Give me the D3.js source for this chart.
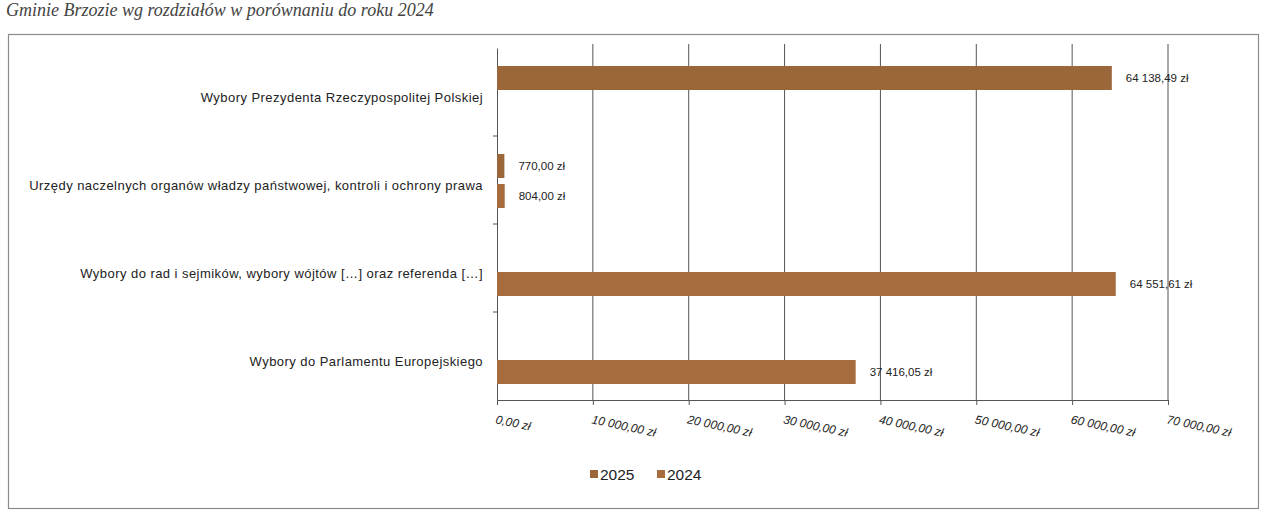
<!DOCTYPE html>
<html>
<head>
<meta charset="utf-8">
<script src="https://cdn.jsdelivr.net/npm/d3@7"></script>
<style>
  body { margin: 0; background: #fff; }
  svg { display: block; font-family: "Liberation Sans", Arial, sans-serif; }
</style>
</head>
<body>
<svg id="chart" width="1265" height="513"></svg>
<script>
// data
const categories = [
  "Wybory Prezydenta Rzeczypospolitej Polskiej",
  "Urzędy naczelnych organów władzy państwowej, kontroli i ochrony prawa",
  "Wybory do rad i sejmików, wybory wójtów […] oraz referenda […]",
  "Wybory do Parlamentu Europejskiego"
];
const seriesNames = ["2025", "2024"];
const values2025 = [64138.49, 770.00, null, null];
const values2024 = [null, 804.00, 64551.61, 37416.05];
const xTicks = [0, 10000, 20000, 30000, 40000, 50000, 60000, 70000];
const colors = { "2025": "#9c663b", "2024": "#a66c3e" };

const fmt = v => {
  const parts = v.toFixed(2).split(".");
  return parts[0].replace(/\B(?=(\d{3})+(?!\d))/g, " ") + "," + parts[1] + " zł";
};

const svg = d3.select("#chart");

// heading line of the scanned page
svg.append("text")
  .attr("x", 6).attr("y", 16)
  .style("font-family", "'Liberation Serif', serif")
  .style("font-style", "italic")
  .style("font-size", "18px")
  .attr("fill", "#444")
  .text("Gminie Brzozie wg rozdziałów w porównaniu do roku 2024");

// chart frame
svg.append("rect")
  .attr("x", 8.5).attr("y", 34.5)
  .attr("width", 1250).attr("height", 474)
  .attr("fill", "none").attr("stroke", "#8a8a8a").attr("stroke-width", 1.2);

const x = d3.scaleLinear().domain([0, 70000]).range([497, 1168]);
const y = d3.scaleBand().domain(categories).range([48, 400]);
const y1 = d3.scaleBand().domain(seriesNames).range([18, 72]).paddingInner(0.2);

const g = svg.append("g");

// grid lines
g.selectAll("line.grid")
  .data(xTicks.slice(1))
  .join("line")
  .attr("class", "grid")
  .attr("x1", d => x(d)).attr("x2", d => x(d))
  .attr("y1", 44).attr("y2", 400)
  .attr("stroke", "#555").attr("stroke-width", 1);

// x axis
const xAxis = g.append("g")
  .attr("transform", "translate(0,400)")
  .call(d3.axisBottom(x).tickValues(xTicks).tickFormat(fmt).tickSize(5).tickSizeOuter(0));
xAxis.select(".domain").attr("stroke", "#555");
xAxis.selectAll(".tick line").attr("stroke", "#555");
xAxis.selectAll(".tick text")
  .attr("fill", "#222")
  .style("font-size", "12px")
  .style("font-style", "italic")
  .attr("text-anchor", "start")
  .attr("transform", "translate(1,7) rotate(12)")
  .attr("dy", "0.71em");

// y axis
const yAxis = g.append("g")
  .attr("transform", "translate(497,0)")
  .call(d3.axisLeft(y).tickSize(0).tickPadding(14));
yAxis.select(".domain").attr("stroke", "#555");
yAxis.selectAll(".tick text")
  .attr("fill", "#222")
  .style("font-size", "13px")
  .style("letter-spacing", "0.45px")
  .attr("dy", "0.75em");
// small ticks at category boundaries
g.selectAll("line.ytick")
  .data(categories.slice(1))
  .join("line")
  .attr("class", "ytick")
  .attr("x1", 493).attr("x2", 497)
  .attr("y1", d => y(d)).attr("y2", d => y(d))
  .attr("stroke", "#555");

// bars
const rows = [];
categories.forEach((c, i) => {
  if (values2025[i] != null) rows.push({ cat: c, s: "2025", v: values2025[i] });
  if (values2024[i] != null) rows.push({ cat: c, s: "2024", v: values2024[i] });
});

g.selectAll("rect.bar")
  .data(rows)
  .join("rect")
  .attr("class", "bar")
  .attr("x", x(0))
  .attr("y", d => y(d.cat) + y1(d.s))
  .attr("width", d => Math.max(x(d.v) - x(0), 5))
  .attr("height", y1.bandwidth())
  .attr("fill", d => colors[d.s]);

g.selectAll("text.val")
  .data(rows)
  .join("text")
  .attr("class", "val")
  .attr("x", d => Math.max(x(d.v), x(0) + 5) + 14)
  .attr("y", d => y(d.cat) + y1(d.s) + y1.bandwidth() / 2)
  .attr("dy", "0.35em")
  .style("font-size", "11.5px")
  .attr("fill", "#222")
  .text(d => fmt(d.v));

// legend
const legend = svg.append("g").attr("transform", "translate(590,474)");
const li = legend.selectAll("g")
  .data(seriesNames)
  .join("g")
  .attr("transform", (d, i) => `translate(${i * 67},0)`);
li.append("rect")
  .attr("x", 0).attr("y", -4)
  .attr("width", 8).attr("height", 8)
  .attr("fill", d => colors[d]);
li.append("text")
  .attr("x", 10).attr("dy", "0.36em")
  .style("font-size", "15.5px")
  .attr("fill", "#222")
  .text(d => d);
</script>
</body>
</html>
